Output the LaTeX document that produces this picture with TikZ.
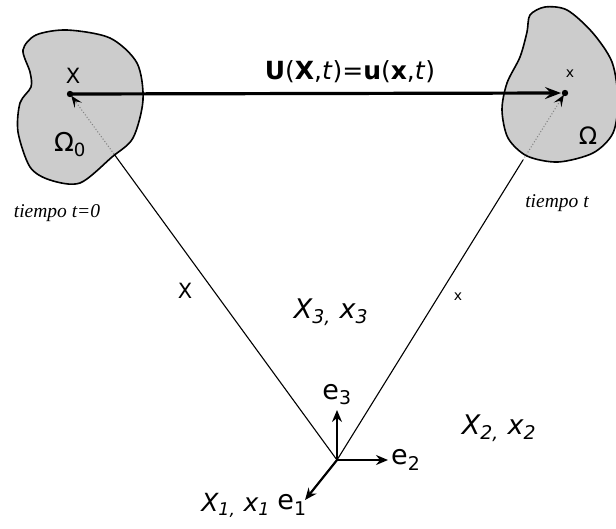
\documentclass[tikz,border=0pt]{standalone}
\usepackage{fontspec}
\newfontfamily\dejavu{DejaVu Sans}
\newfontfamily\tserif{Liberation Serif}
\usetikzlibrary{arrows.meta, positioning}
\tikzstyle{body} = [draw, line width=1.6pt, fill=black!20]
\tikzstyle{arrow} = [line width=3.2pt, -{Stealth[length=16pt, width=12pt, inset=6pt]}]
\tikzstyle{axis} = [line width=2.2pt, -{Stealth[length=12pt, width=10pt, inset=4pt]}]
\tikzstyle{radius} = [line width=1.1pt]
\tikzstyle{inner} = [line width=1pt, black!50, dotted, -{Stealth[black, length=12pt, width=9pt, inset=5pt]}]
\tikzstyle{lbl} = [inner sep=0pt, font=\dejavu]
\tikzstyle{tlbl} = [inner sep=0pt, font=\tserif\itshape\fontsize{19.5}{22}\selectfont]

\begin{document}
\begin{tikzpicture}[x=1pt, y=-1pt]
    \useasboundingbox (0,0) rectangle (616,528);
    % undeformed and deformed bodies
    \draw[body] plot[smooth cycle] coordinates {(23,50) (36,35) (67,30) (110,38) (137,63) (143,100)
      (133,138) (112,157) (80,183) (50,180) (30,167) (18,132) (20,103) (31,87) (30,72)};
    \draw[body] plot[smooth cycle] coordinates {(530,15) (545,7) (567,10) (592,32) (612,62) (618,100)
      (613,133) (593,153) (558,162) (527,156) (508,138) (502,110) (507,83) (520,57) (527,32)};
    \coordinate (P0) at (70,94);
    \coordinate (P) at (565,93);
    \coordinate (O) at (337,460);
    \coordinate (b0) at (114,154);
    \coordinate (b) at (523,160);
    \coordinate (e1) at (305,500);
    \coordinate (e2) at (388,460);
    \coordinate (e3) at (337,410);
    % position vectors
    \draw[radius] (O) -- (b0);
    \draw[radius] (O) -- (b);
    \draw[inner, shorten >=2pt] (b0) -- (P0);
    \draw[inner, shorten >=2pt] (b) -- (P);
    \draw[arrow, shorten >=4pt] (P0) -- (P);
    \fill (P0) circle (3.2);
    \fill (P) circle (3.2);
    % base vectors
    \draw[axis] (O) -- (e1);
    \draw[axis] (O) -- (e2);
    \draw[axis] (O) -- (e3);
    % labels
    \node[lbl, font=\dejavu\fontsize{25}{28}\selectfont] (disp) at (350,72)
      {\textbf{U}(\textbf{X},\textit{t})=\textbf{u}(\textbf{x},\textit{t})};
    \node[lbl, font=\dejavu\fontsize{21}{24}\selectfont] (X0) at (73,76) {X};
    \node[lbl, font=\dejavu\fontsize{14}{16}\selectfont] (x0) at (570,74) {x};
    \node[lbl, font=\dejavu\fontsize{26}{30}\selectfont] (om0) at (70,145) {Ω\textsubscript{0}};
    \node[lbl, font=\dejavu\fontsize{24}{28}\selectfont] (om) at (588,136) {Ω};
    \node[tlbl] (t0) at (57,213) {tiempo t=0};
    \node[tlbl] (t) at (557,203) {tiempo t};
    \node[lbl, font=\dejavu\fontsize{21}{24}\selectfont] (Xv) at (185,291) {X};
    \node[lbl, font=\dejavu\fontsize{14}{16}\selectfont] (xv) at (458,297) {x};
    \node[lbl, font=\dejavu\itshape\fontsize{27}{30}\selectfont] (ax3) at (331,312) {X\textsubscript{3,} x\textsubscript{3}};
    \node[lbl, font=\dejavu\itshape\fontsize{27}{30}\selectfont] (ax2) at (499,428) {X\textsubscript{2,} x\textsubscript{2}};
    \node[lbl, font=\dejavu\fontsize{27}{30}\selectfont, above=5pt of e3] (le3) {e\textsubscript{3}};
    \node[lbl, font=\dejavu\fontsize{27}{30}\selectfont, right=3pt of e2] (le2) {e\textsubscript{2}};
    \node[lbl, font=\dejavu\fontsize{27}{30}\selectfont] (le1) at (292,505) {e\textsubscript{1}};
    \node[lbl, font=\dejavu\itshape\fontsize{25}{28}\selectfont, left=7pt of le1] (ax1) {X\textsubscript{1,} x\textsubscript{1}};
  \end{tikzpicture}
\end{document}
